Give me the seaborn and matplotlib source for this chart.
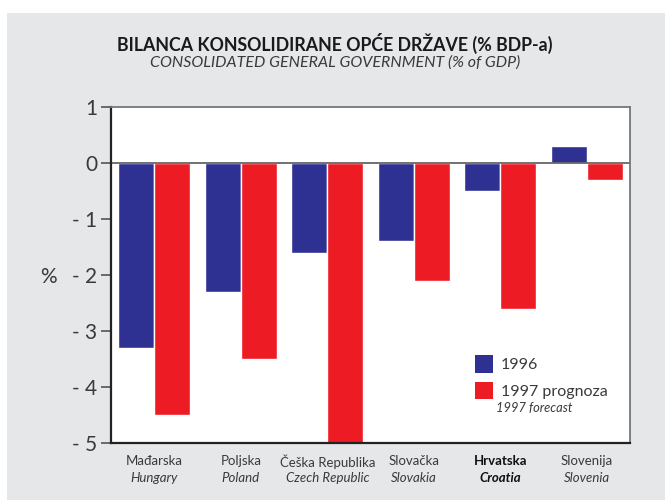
import numpy as np
import pandas as pd
import matplotlib
matplotlib.use("Agg")
import matplotlib.pyplot as plt
from matplotlib.patches import Rectangle, Patch
import seaborn as sns

# --------------------------------------------------------------------
# DATA
# --------------------------------------------------------------------
countries_hr = ["Mađarska", "Poljska", "Češka Republika", "Slovačka", "Hrvatska", "Slovenija"]
countries_en = ["Hungary", "Poland", "Czech Republic", "Slovakia", "Croatia", "Slovenia"]
balance_1996 = [-3.3, -2.3, -1.6, -1.4, -0.5, 0.3]
balance_1997 = [-4.5, -3.5, -5.0, -2.1, -2.6, -0.3]
series_names = ["1996", "1997 prognoza"]
y_ticks = [1, 0, -1, -2, -3, -4, -5]
y_tick_labels = ["1", "0", "- 1", "- 2", "- 3", "- 4", "- 5"]

df = pd.DataFrame({
    "country": countries_hr * 2,
    "value": balance_1996 + balance_1997,
    "series": [series_names[0]] * len(countries_hr) + [series_names[1]] * len(countries_hr),
})

BLUE = "#2e3192"
RED = "#ed1c24"
BG = "#e6e7e8"
TXT = "#3a3a3a"

sns.set_theme(style="white")
plt.rcParams["font.family"] = ["Lato", "DejaVu Sans"]

fig = plt.figure(figsize=(6.65, 5.0), dpi=100)
fig.patch.set_facecolor("white")
# grey panel behind the chart
fig.patches.append(Rectangle((7 / 665, 0), 1, 1 - 13 / 500, transform=fig.transFigure,
                             facecolor=BG, edgecolor="none", zorder=-10))

ax = fig.add_axes([111 / 665, 1 - 443 / 500, (630 - 111) / 665, (443 - 107) / 500])
sns.barplot(data=df, x="country", y="value", hue="series", order=countries_hr,
            palette=[BLUE, RED], saturation=1, width=0.83, ax=ax, legend=False)

ax.set_facecolor("white")
ax.set_ylim(-5, 1)
ax.set_xlim(-0.5, len(countries_hr) - 0.5)
ax.set_yticks(y_ticks)
ax.set_yticklabels(y_tick_labels, fontsize=15, color=TXT)
ax.tick_params(axis="y", direction="out", length=7, width=1.2, color="#555", pad=3, left=True)
ax.set_xticks([])
ax.set_xlabel("")
ax.set_ylabel("")
ax.axhline(0, color="#666", lw=1.3, zorder=1)

for side in ["left", "bottom"]:
    ax.spines[side].set_color("#222")
    ax.spines[side].set_linewidth(1.6)
for side in ["top", "right"]:
    ax.spines[side].set_color("#777")
    ax.spines[side].set_linewidth(1.3)
    ax.spines[side].set_visible(True)
ax.spines["left"].set_visible(True)
ax.spines["bottom"].set_visible(True)

# two-line category labels under the axis
for i, (hr, en) in enumerate(zip(countries_hr, countries_en)):
    bold = "bold" if hr == "Hrvatska" else "normal"
    col = "#111" if hr == "Hrvatska" else TXT
    ax.text(i, -0.055, hr, transform=ax.get_xaxis_transform(), ha="center", va="center",
            fontsize=9.5, color=col, fontweight=bold)
    ax.text(i, -0.103, en, transform=ax.get_xaxis_transform(), ha="center", va="center",
            fontsize=9.5, color=col, fontweight=bold, style="italic")

# legend
handles = [Patch(facecolor=BLUE, edgecolor="none"), Patch(facecolor=RED, edgecolor="none")]
leg = ax.legend(handles, series_names, loc="upper left", bbox_to_anchor=(0.69, 0.28),
                frameon=False, fontsize=11.5, handlelength=1.1, handleheight=1.3,
                handletextpad=0.5, labelspacing=0.55, borderaxespad=0)
for t in leg.get_texts():
    t.set_color(TXT)
ax.text(0.741, 0.103, "1997 forecast", transform=ax.transAxes, fontsize=9.3,
        style="italic", color=TXT, ha="left", va="center")

# "%" axis label
fig.text(48 / 665, 1 - 277 / 500, "%", fontsize=15, color=TXT, ha="center", va="center")

# titles
fig.text(335 / 665, 1 - 43 / 500, "BILANCA KONSOLIDIRANE OPĆE DRŽAVE (% BDP-a)",
         fontsize=12.8, fontweight="bold", color="#1a1a1a", ha="center", va="center")
fig.text(335 / 665, 1 - 63 / 500, "CONSOLIDATED GENERAL GOVERNMENT (% of GDP)",
         fontsize=11.5, style="italic", color=TXT, ha="center", va="center")

fig.savefig("out.png", dpi=100)
